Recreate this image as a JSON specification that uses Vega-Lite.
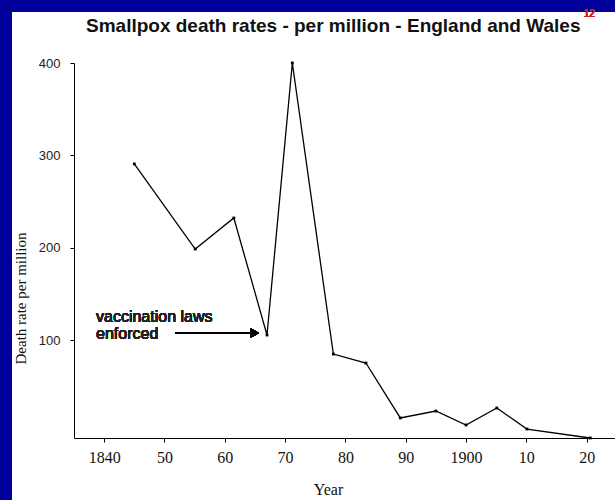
{
  "$schema": "https://vega.github.io/schema/vega-lite/v6.json",
  "autosize": {"type": "none"},
  "width": 541,
  "height": 375,
  "padding": {"left": 74, "top": 63, "right": 0, "bottom": 62},
  "background": "#00009a",
  "title": {
    "text": "Smallpox death rates - per million - England and Wales",
    "anchor": "start",
    "frame": "group",
    "dx": 12,
    "font": "Liberation Sans",
    "fontSize": 19,
    "fontWeight": "bold",
    "color": "#111111",
    "baseline": "alphabetic",
    "offset": -42,
    "zindex": 2
  },
  "config": {
    "view": {"stroke": null},
    "axis": {"grid": false, "domainColor": "#000000", "tickColor": "#000000", "domainWidth": 1, "tickWidth": 1, "tickSize": 4}
  },
  "data": {
    "values": [
      {"year": 1845.0, "rate": 290.7},
      {"year": 1855.1, "rate": 198.6},
      {"year": 1861.5, "rate": 232.2},
      {"year": 1867.0, "rate": 105.5},
      {"year": 1871.2, "rate": 400},
      {"year": 1878.0, "rate": 84.9},
      {"year": 1883.4, "rate": 75.2},
      {"year": 1889.1, "rate": 15.7},
      {"year": 1895.0, "rate": 23.2},
      {"year": 1900.0, "rate": 8.1},
      {"year": 1905.1, "rate": 26.5},
      {"year": 1910.1, "rate": 3.7},
      {"year": 1920.6, "rate": -6}
    ]
  },
  "layer": [
    {
      "mark": {"type": "rect", "fill": "#ffffff", "clip": false, "zindex": 0},
      "encoding": {
        "x": {"datum": 1824.72, "type": "quantitative"},
        "x2": {"datum": 1935},
        "y": {"datum": 455.2, "type": "quantitative"},
        "y2": {"datum": -90}
      }
    },
    {
      "mark": {"type": "line", "color": "#000000", "strokeWidth": 1.3, "zindex": 1},
      "encoding": {
        "x": {
          "field": "year", "type": "quantitative",
          "scale": {"domain": [1835.0, 1924.7], "nice": false, "zero": false},
          "axis": {
            "zindex": 3,
            "title": "Year",
            "values": [1840, 1850, 1860, 1870, 1880, 1890, 1900, 1910, 1920],
            "labelExpr": "(datum.value == 1840 || datum.value == 1900) ? datum.value + '' : slice(datum.value + '', 2)",
            "labelFont": "Liberation Serif",
            "labelFontSize": 16,
            "labelColor": "#111111",
            "labelPadding": 7,
            "titleFont": "Liberation Serif",
            "titleFontSize": 16,
            "titleFontWeight": "normal",
            "titleColor": "#111111",
            "titleX": 254,
            "titlePadding": 16
          }
        },
        "y": {
          "field": "rate", "type": "quantitative",
          "scale": {"domain": [-6, 400], "nice": false, "zero": false},
          "axis": {
            "zindex": 3,
            "title": "Death rate per million",
            "values": [100, 200, 300, 400],
            "labelFont": "Liberation Sans",
            "labelFontSize": 13,
            "labelColor": "#222222",
            "labelPadding": 10,
            "titleFont": "Liberation Serif",
            "titleFontSize": 15,
            "titleFontWeight": "normal",
            "titleColor": "#111111",
            "titleY": 235,
            "titlePadding": 10
          }
        }
      }
    },
    {
      "mark": {"type": "point", "filled": true, "shape": "square", "size": 8, "color": "#000000", "opacity": 1, "zindex": 1},
      "encoding": {
        "x": {"field": "year", "type": "quantitative"},
        "y": {"field": "rate", "type": "quantitative"}
      }
    },
    {
      "mark": {"type": "rule", "color": "#000000", "strokeWidth": 1.3, "zindex": 1},
      "encoding": {
        "x": {"datum": 1851.74, "type": "quantitative"},
        "x2": {"datum": 1864.17},
        "y": {"datum": 107.7, "type": "quantitative"}
      }
    },
    {
      "mark": {"type": "point", "shape": "triangle-right", "filled": true, "size": 90, "color": "#000000", "opacity": 1, "zindex": 1},
      "encoding": {
        "x": {"datum": 1865.0, "type": "quantitative"},
        "y": {"datum": 107.7, "type": "quantitative"}
      }
    },
    {
      "mark": {"type": "text", "align": "left", "baseline": "alphabetic", "font": "Liberation Sans", "fontSize": 16, "lineHeight": 17.5, "color": "#222222", "lineBreak": "\n", "zindex": 1},
      "encoding": {
        "x": {"datum": 1838.65, "type": "quantitative"},
        "y": {"datum": 119.9, "type": "quantitative"},
        "text": {"value": "vaccination laws\nenforced"}
      }
    },
    {
      "mark": {"type": "text", "align": "left", "baseline": "alphabetic", "font": "Liberation Sans", "fontSize": 10, "color": "#cc2222", "zindex": 1},
      "encoding": {
        "x": {"datum": 1919.5, "type": "quantitative"},
        "y": {"datum": 449.3, "type": "quantitative"},
        "text": {"value": "12"}
      }
    }
  ]
}
